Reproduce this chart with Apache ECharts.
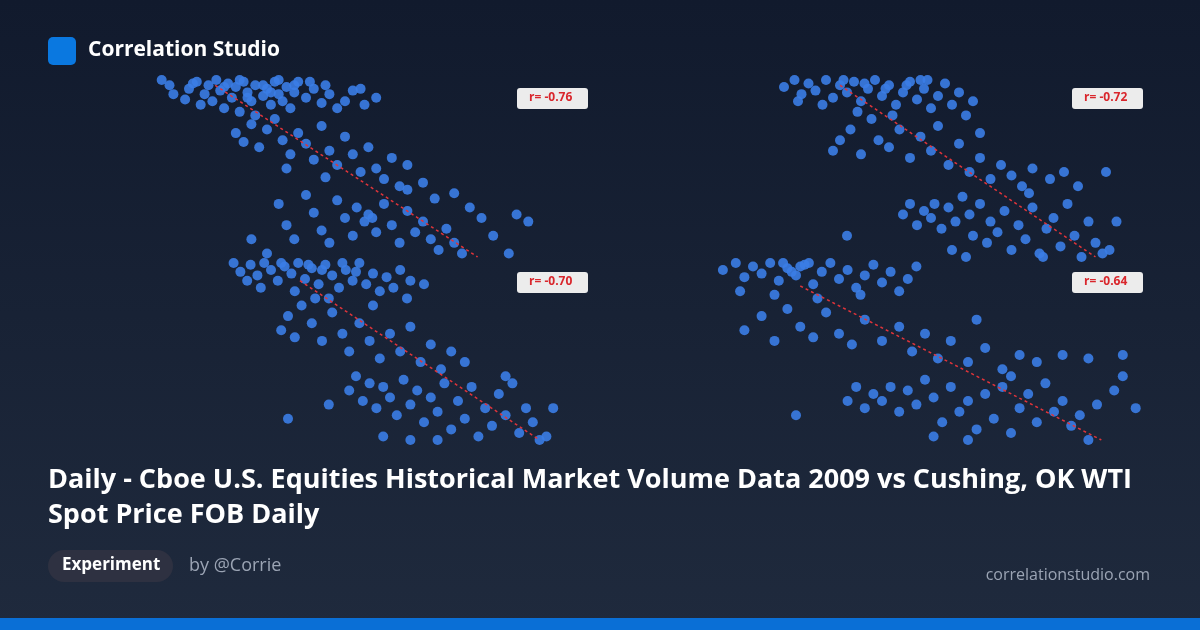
<!DOCTYPE html>
<html>
<head>
<meta charset="utf-8">
<script src="https://cdn.jsdelivr.net/npm/echarts@6/dist/echarts.min.js"></script>
<style>
  html, body { margin: 0; padding: 0; }
  body { width: 1200px; height: 630px; background: linear-gradient(180deg, #111a2d 0%, #1f2a3d 100%); overflow: hidden; font-family: "Open Sans", sans-serif; }
  #chart { position: absolute; left: 0; top: 0; width: 1200px; height: 630px; }
</style>
</head>
<body>
<div id="chart"></div>
<script>
// scatter values per panel, [volume, price] in normalised units
const panelTL = [[3,100],[5,97],[8,101],[10,95],[12,99],[14,92],[15,97],[17,100],[18,94],[20,98],[21,90],[22,96],[24,99],[25,93],[26,88],[27,97],[28,101],[29,91],[30,95],[31,86],[32,99],[33,92],[34,88],[35,96],[36,84],[37,93],[38,99],[40,90],[42,95],[44,87],[46,92],[48,84],[50,88],[55,86],[52,94],[9,89],[13,86],[19,84],[23,82],[27,80],[6,92],[16,88],[54,95],[58,90],[11,98],[19,96],[23,100],[29,97],[33,100],[37,97],[41,99],[45,97],[25,90],[31,93],
  [22,70],[26,75],[28,62],[30,72],[32,78],[34,66],[36,58],[38,70],[40,64],[42,55],[44,74],[46,60],[48,52],[50,68],[52,58],[54,48],[56,62],[58,50],[60,44],[62,56],[64,40],[66,52],[35,50],[45,45],[24,65],
  [33,30],[35,18],[37,10],[40,35],[42,25],[44,15],[46,8],[48,32],[50,22],[52,12],[53,28],[55,20],[56,24],[57,22],[58,14],[60,30],[62,18],[64,8],[66,26],[68,14],[70,20],[72,10],[74,4],[76,16],[78,8],[80,2],[73,33],[78,36],[82,28],[85,22],[88,12],[92,2],[94,24],[97,20],[66,38],[70,42],[26,10],[30,2]];
const panelTR = [[4,96],[7,100],[9,92],[11,98],[13,94],[16,100],[18,90],[20,97],[22,93],[24,99],[26,88],[28,95],[30,100],[32,91],[34,97],[36,86],[38,93],[40,99],[42,89],[44,95],[46,84],[48,91],[50,98],[52,86],[54,93],[56,80],[58,88],[45,100],[15,86],[25,82],[35,80],[8,88],[21,100],[27,98],[33,95],[39,97],[43,100],
  [18,60],[20,66],[23,72],[26,58],[29,78],[31,66],[34,62],[37,72],[40,56],[43,68],[46,60],[48,74],[51,52],[54,64],[57,48],[60,56],[63,44],[66,52],[69,46],[72,40],[75,50],[80,44],[84,48],[88,40],[96,48],[60,70],
  [22,12],[38,24],[40,30],[42,18],[44,26],[46,22],[47,30],[49,16],[51,28],[53,20],[55,34],[57,24],[58,12],[60,30],[62,8],[63,20],[65,14],[67,26],[69,4],[71,18],[73,10],[75,28],[77,2],[79,16],[81,22],[83,6],[85,30],[87,12],[89,0],[91,20],[93,8],[95,2],[97,4],[52,4],[56,0],[74,36],[99,20],[78,0]];
const panelBL = [[4,100],[6,95],[9,99],[11,93],[13,100],[15,96],[17,90],[19,98],[21,94],[23,100],[25,91],[27,97],[29,88],[31,99],[33,93],[35,86],[37,96],[39,90],[41,100],[43,88],[45,94],[47,84],[49,92],[51,86],[53,96],[55,80],[56,90],[12,86],[22,84],[32,80],[8,90],[60,88],[18,100],[26,99],[30,96],[36,100],[40,95],
  [18,62],[20,70],[22,58],[24,76],[27,66],[30,56],[33,72],[36,60],[38,50],[41,66],[44,56],[47,46],[50,60],[53,50],[56,64],[59,44],[62,54],[65,40],[68,50],[72,44],[45,76],[28,80],
  [20,12],[38,28],[40,36],[42,22],[44,32],[46,18],[48,30],[50,24],[52,14],[54,34],[56,20],[58,28],[60,10],[62,24],[64,16],[66,32],[68,6],[70,22],[72,12],[74,30],[76,2],[78,18],[80,8],[82,26],[84,14],[86,32],[88,4],[90,18],[92,10],[94,0],[96,2],[98,18],[48,2],[56,0],[64,0],[84,36],[32,20]];
const panelBR = [[3,96],[6,100],[8,92],[10,98],[12,94],[14,100],[16,90],[18,97],[20,93],[22,99],[24,88],[26,95],[28,100],[30,91],[32,96],[34,86],[36,93],[38,99],[40,89],[42,95],[44,84],[46,91],[7,84],[15,82],[25,80],[35,82],[48,98],[17,100],[19,95],[21,98],[23,100],
  [8,62],[12,70],[15,56],[18,74],[21,64],[24,58],[27,72],[30,60],[33,54],[36,68],[40,56],[44,64],[47,50],[50,60],[53,46],[56,56],[60,44],[64,52],[68,40],[72,48],[76,44],[82,48],[88,46],[96,48],[62,68],
  [20,14],[32,22],[34,30],[36,18],[38,26],[40,22],[42,30],[44,16],[46,28],[48,20],[50,34],[52,24],[54,10],[56,30],[58,16],[60,22],[62,6],[64,26],[66,12],[68,30],[70,4],[72,18],[74,26],[76,10],[78,32],[80,16],[82,22],[84,8],[86,14],[88,0],[90,20],[94,28],[96,36],[99,18],[60,0],[52,2],[70,36]];
const trendTL = [[16.7,97],[84,0]];
const trendTR = [[20,97],[93,0]];
const trendBL = [[23.5,90],[94,0]];
const trendBR = [[21,87],[91,0]];
const rLabels = ['r= -0.76', 'r= -0.72', 'r= -0.70', 'r= -0.64'];
const title = 'Daily - Cboe U.S. Equities Historical Market Volume Data 2009 vs Cushing, OK WTI\nSpot Price FOB Daily';

const panels = [panelTL, panelTR, panelBL, panelBR];
const trends = [trendTL, trendTR, trendBL, trendBR];
const grids = [
  {left: 150, top: 80, width: 390, height: 177},
  {left: 770, top: 80, width: 350, height: 177},
  {left: 220, top: 263, width: 340, height: 177},
  {left: 710, top: 263, width: 430, height: 177}
];
const labelPos = [[517, 88], [1072, 88], [517, 272], [1072, 272]];

const chart = echarts.init(document.getElementById('chart'));
const series = [];
panels.forEach((pts, i) => {
  series.push({
    type: 'scatter', xAxisIndex: i, yAxisIndex: i, data: pts, symbolSize: 10, clip: true,
    itemStyle: {color: '#3b7de6', opacity: 0.9}
  });
  series.push({
    type: 'line', xAxisIndex: i, yAxisIndex: i, data: trends[i], symbol: 'none', clip: true,
    lineStyle: {color: '#e0343a', width: 1.5, type: [3, 3]}
  });
});

const F = '"Open Sans", sans-serif';
const graphic = [
  {type: 'rect', left: 48, top: 37, shape: {width: 28, height: 28, r: 5}, style: {fill: '#0a78e0'}},
  {type: 'text', left: 88, top: 40, style: {text: 'Correlation Studio', fill: '#fff', font: 'bold 21px ' + F}},
  {type: 'text', left: 48, top: 463, style: {text: title, fill: '#fff', font: 'bold 27px ' + F, lineHeight: 35}},
  {type: 'rect', left: 48, top: 550, shape: {width: 125, height: 32, r: 16}, style: {fill: '#2e3141'}},
  {type: 'text', left: 62, top: 557, style: {text: 'Experiment', fill: '#fff', font: 'bold 17px ' + F}},
  {type: 'text', left: 189, top: 557, style: {text: 'by @Corrie', fill: '#9ba4b4', font: '18px ' + F}},
  {type: 'text', right: 50, top: 567, style: {text: 'correlationstudio.com', fill: '#9ba4b4', font: '16px ' + F}},
  {type: 'rect', left: 0, top: 618, shape: {width: 1200, height: 12}, style: {fill: '#0a6fd6'}}
];
rLabels.forEach((t, i) => {
  graphic.push({type: 'rect', left: labelPos[i][0], top: labelPos[i][1], shape: {width: 71, height: 21, r: 3}, style: {fill: '#ececec'}});
  graphic.push({type: 'text', left: labelPos[i][0] + 12, top: labelPos[i][1] + 4, style: {text: t, fill: '#d9262c', font: 'bold 12px ' + F}});
});

chart.setOption({
  animation: false,
  grid: grids,
  xAxis: grids.map((g, i) => ({gridIndex: i, min: 0, max: 100, show: false})),
  yAxis: grids.map((g, i) => ({gridIndex: i, min: 0, max: 100, show: false})),
  series: series,
  graphic: graphic
});
</script>
</body>
</html>
